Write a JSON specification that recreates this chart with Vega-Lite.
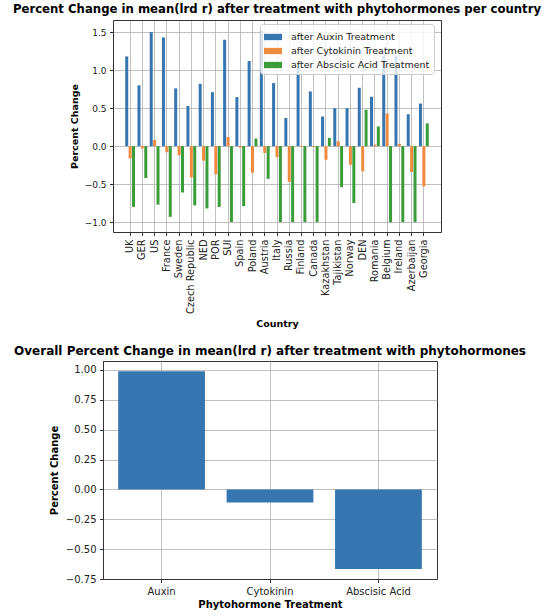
{
  "$schema": "https://vega.github.io/schema/vega-lite/v6.json",
  "padding": {"left": 12, "top": 4, "right": 5, "bottom": 2},
  "spacing": 15,
  "columns": 1,
  "config": {
    "font": "DejaVu Sans",
    "view": {"stroke": "#333333", "strokeWidth": 1},
    "axis": {
      "domainColor": "#333333", "tickColor": "#333333", "tickSize": 3.5, "labelPadding": 3.5,
      "gridColor": "#b0b0b0", "gridWidth": 0.8, "labelColor": "#222222", "titleColor": "#000000",
      "titleFontWeight": "bold", "labelFont": "DejaVu Sans", "titleFont": "DejaVu Sans", "zindex": 1
    },
    "title": {"font": "DejaVu Sans", "fontWeight": "bold", "color": "#000000", "frame": "group", "anchor": "middle"}
  },
  "datasets": {
    "countries": [
      {"country": "UK", "treatment": "after Auxin Treatment", "value": 1.18},
      {"country": "UK", "treatment": "after Cytokinin Treatment", "value": -0.16},
      {"country": "UK", "treatment": "after Abscisic Acid Treatment", "value": -0.80},
      {"country": "GER", "treatment": "after Auxin Treatment", "value": 0.80},
      {"country": "GER", "treatment": "after Cytokinin Treatment", "value": -0.03},
      {"country": "GER", "treatment": "after Abscisic Acid Treatment", "value": -0.42},
      {"country": "US", "treatment": "after Auxin Treatment", "value": 1.50},
      {"country": "US", "treatment": "after Cytokinin Treatment", "value": 0.08},
      {"country": "US", "treatment": "after Abscisic Acid Treatment", "value": -0.77},
      {"country": "France", "treatment": "after Auxin Treatment", "value": 1.43},
      {"country": "France", "treatment": "after Cytokinin Treatment", "value": -0.08},
      {"country": "France", "treatment": "after Abscisic Acid Treatment", "value": -0.93},
      {"country": "Sweden", "treatment": "after Auxin Treatment", "value": 0.76},
      {"country": "Sweden", "treatment": "after Cytokinin Treatment", "value": -0.12},
      {"country": "Sweden", "treatment": "after Abscisic Acid Treatment", "value": -0.61},
      {"country": "Czech Republic", "treatment": "after Auxin Treatment", "value": 0.53},
      {"country": "Czech Republic", "treatment": "after Cytokinin Treatment", "value": -0.41},
      {"country": "Czech Republic", "treatment": "after Abscisic Acid Treatment", "value": -0.78},
      {"country": "NED", "treatment": "after Auxin Treatment", "value": 0.82},
      {"country": "NED", "treatment": "after Cytokinin Treatment", "value": -0.19},
      {"country": "NED", "treatment": "after Abscisic Acid Treatment", "value": -0.82},
      {"country": "POR", "treatment": "after Auxin Treatment", "value": 0.71},
      {"country": "POR", "treatment": "after Cytokinin Treatment", "value": -0.37},
      {"country": "POR", "treatment": "after Abscisic Acid Treatment", "value": -0.80},
      {"country": "SUI", "treatment": "after Auxin Treatment", "value": 1.40},
      {"country": "SUI", "treatment": "after Cytokinin Treatment", "value": 0.12},
      {"country": "SUI", "treatment": "after Abscisic Acid Treatment", "value": -1.00},
      {"country": "Spain", "treatment": "after Auxin Treatment", "value": 0.645},
      {"country": "Spain", "treatment": "after Cytokinin Treatment", "value": -0.02},
      {"country": "Spain", "treatment": "after Abscisic Acid Treatment", "value": -0.79},
      {"country": "Poland", "treatment": "after Auxin Treatment", "value": 1.12},
      {"country": "Poland", "treatment": "after Cytokinin Treatment", "value": -0.35},
      {"country": "Poland", "treatment": "after Abscisic Acid Treatment", "value": 0.10},
      {"country": "Austria", "treatment": "after Auxin Treatment", "value": 1.52},
      {"country": "Austria", "treatment": "after Cytokinin Treatment", "value": -0.09},
      {"country": "Austria", "treatment": "after Abscisic Acid Treatment", "value": -0.43},
      {"country": "Italy", "treatment": "after Auxin Treatment", "value": 0.83},
      {"country": "Italy", "treatment": "after Cytokinin Treatment", "value": -0.145},
      {"country": "Italy", "treatment": "after Abscisic Acid Treatment", "value": -1.00},
      {"country": "Russia", "treatment": "after Auxin Treatment", "value": 0.37},
      {"country": "Russia", "treatment": "after Cytokinin Treatment", "value": -0.47},
      {"country": "Russia", "treatment": "after Abscisic Acid Treatment", "value": -1.00},
      {"country": "Finland", "treatment": "after Auxin Treatment", "value": 1.04},
      {"country": "Finland", "treatment": "after Cytokinin Treatment", "value": -0.01},
      {"country": "Finland", "treatment": "after Abscisic Acid Treatment", "value": -1.00},
      {"country": "Canada", "treatment": "after Auxin Treatment", "value": 0.72},
      {"country": "Canada", "treatment": "after Cytokinin Treatment", "value": -0.01},
      {"country": "Canada", "treatment": "after Abscisic Acid Treatment", "value": -1.00},
      {"country": "Kazakhstan", "treatment": "after Auxin Treatment", "value": 0.39},
      {"country": "Kazakhstan", "treatment": "after Cytokinin Treatment", "value": -0.18},
      {"country": "Kazakhstan", "treatment": "after Abscisic Acid Treatment", "value": 0.11},
      {"country": "Tajikistan", "treatment": "after Auxin Treatment", "value": 0.50},
      {"country": "Tajikistan", "treatment": "after Cytokinin Treatment", "value": 0.065},
      {"country": "Tajikistan", "treatment": "after Abscisic Acid Treatment", "value": -0.54},
      {"country": "Norway", "treatment": "after Auxin Treatment", "value": 0.50},
      {"country": "Norway", "treatment": "after Cytokinin Treatment", "value": -0.245},
      {"country": "Norway", "treatment": "after Abscisic Acid Treatment", "value": -0.75},
      {"country": "DEN", "treatment": "after Auxin Treatment", "value": 0.77},
      {"country": "DEN", "treatment": "after Cytokinin Treatment", "value": -0.33},
      {"country": "DEN", "treatment": "after Abscisic Acid Treatment", "value": 0.48},
      {"country": "Romania", "treatment": "after Auxin Treatment", "value": 0.65},
      {"country": "Romania", "treatment": "after Cytokinin Treatment", "value": 0.02},
      {"country": "Romania", "treatment": "after Abscisic Acid Treatment", "value": 0.26},
      {"country": "Belgium", "treatment": "after Auxin Treatment", "value": 1.19},
      {"country": "Belgium", "treatment": "after Cytokinin Treatment", "value": 0.43},
      {"country": "Belgium", "treatment": "after Abscisic Acid Treatment", "value": -1.00},
      {"country": "Ireland", "treatment": "after Auxin Treatment", "value": 1.19},
      {"country": "Ireland", "treatment": "after Cytokinin Treatment", "value": 0.03},
      {"country": "Ireland", "treatment": "after Abscisic Acid Treatment", "value": -1.00},
      {"country": "Azerbaijan", "treatment": "after Auxin Treatment", "value": 0.42},
      {"country": "Azerbaijan", "treatment": "after Cytokinin Treatment", "value": -0.34},
      {"country": "Azerbaijan", "treatment": "after Abscisic Acid Treatment", "value": -1.00},
      {"country": "Georgia", "treatment": "after Auxin Treatment", "value": 0.56},
      {"country": "Georgia", "treatment": "after Cytokinin Treatment", "value": -0.53},
      {"country": "Georgia", "treatment": "after Abscisic Acid Treatment", "value": 0.30}
    ],
    "overall": [
      {"treatment": "Auxin", "value": 0.99},
      {"treatment": "Cytokinin", "value": -0.11},
      {"treatment": "Abscisic Acid", "value": -0.667}
    ]
  },
  "concat": [
    {
      "width": 338,
      "height": 212,
      "view": {"stroke": null},
      "title": {"text": "Percent Change in mean(lrd r) after treatment with phytohormones per country", "fontSize": 11.7, "offset": 4, "dx": 5},
      "data": {"name": "countries"},
      "layer": [
        {
          "mark": {"type": "bar"},
          "encoding": {
            "x": {
              "field": "country", "type": "nominal", "sort": null,
              "scale": {"range": [10, 338], "paddingInner": 0.2, "paddingOuter": 1.3},
              "axis": {"title": "Country", "labelAngle": -90, "labelFontSize": 9.8, "titleFontSize": 9.5, "titlePadding": 5, "grid": true, "bandPosition": 0.5}
            },
            "xOffset": {
              "field": "treatment", "type": "nominal",
              "sort": ["after Auxin Treatment", "after Cytokinin Treatment", "after Abscisic Acid Treatment"],
              "scale": {"paddingInner": 0.12}
            },
            "y": {
              "field": "value", "type": "quantitative",
              "scale": {"domain": [-1.13, 1.66], "nice": false, "zero": false},
              "axis": {"title": "Percent Change", "offset": -10, "values": [-1, -0.5, 0, 0.5, 1, 1.5], "format": ".1f", "labelFontSize": 9, "titleFontSize": 9.5, "titlePadding": 5, "grid": true}
            },
            "color": {
              "field": "treatment", "type": "nominal",
              "scale": {
                "domain": ["after Auxin Treatment", "after Cytokinin Treatment", "after Abscisic Acid Treatment"],
                "range": ["#3575b0", "#f08a3e", "#3b9c3a"]
              },
              "legend": {
                "title": null, "orient": "none", "legendX": 157, "legendY": 4, "zindex": 2,
                "fillColor": "rgba(255,255,255,0.8)", "strokeColor": "#cccccc", "cornerRadius": 3, "padding": 4,
                "symbolType": "M-1,-0.35H1V0.35H-1Z", "symbolSize": 324, "symbolStrokeWidth": 0, "symbolOpacity": 1,
                "labelFontSize": 9.5, "labelColor": "#222222", "labelOffset": 9, "rowPadding": -3.5, "labelLimit": 300
              }
            }
          }
        },
        {
          "mark": {"type": "bar", "opacity": 0},
          "encoding": {
            "x": {
              "field": "country", "type": "nominal", "sort": null,
              "axis": {"orient": "top", "title": null, "labels": false, "ticks": false, "grid": false}
            },
            "y": {
              "field": "value", "type": "quantitative",
              "axis": {"orient": "right", "title": null, "labels": false, "ticks": false, "grid": false}
            }
          }
        }
      ],
      "resolve": {"axis": {"x": "independent", "y": "independent"}}
    },
    {
      "width": 334,
      "height": 218,
      "title": {"text": "Overall Percent Change in mean(lrd r) after treatment with phytohormones", "fontSize": 12, "offset": 3},
      "data": {"name": "overall"},
      "mark": {"type": "bar", "color": "#3575b0"},
      "encoding": {
        "x": {
          "field": "treatment", "type": "nominal", "sort": null,
          "scale": {"paddingInner": 0.2, "paddingOuter": 0.14},
          "axis": {"title": "Phytohormone Treatment", "labelAngle": 0, "labelFontSize": 10, "titleFontSize": 10, "titlePadding": 3, "grid": true, "bandPosition": 0.5}
        },
        "y": {
          "field": "value", "type": "quantitative",
          "scale": {"domain": [-0.75, 1.075], "nice": false, "zero": false},
          "axis": {"title": "Percent Change", "values": [-0.75, -0.5, -0.25, 0, 0.25, 0.5, 0.75, 1], "format": ".2f", "labelFontSize": 10, "titleFontSize": 10, "titlePadding": 6, "grid": true}
        }
      }
    }
  ]
}
